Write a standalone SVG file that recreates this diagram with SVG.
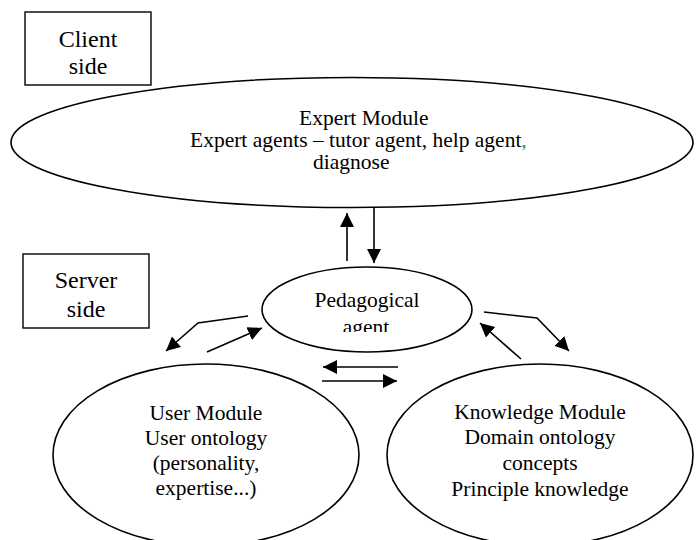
<svg xmlns="http://www.w3.org/2000/svg" width="696" height="540" viewBox="0 0 696 540">
<style>
  .shape { fill: #ffffff; stroke: #000000; stroke-width: 1.6; }
  .box { fill: #ffffff; stroke: #000000; stroke-width: 1.4; }
  .t { font-family: "Liberation Serif", "Times New Roman", serif; fill: #000000; }
  .lbl { font-size: 24px; text-anchor: middle; }
  .mod { font-size: 21.5px; text-anchor: middle; }
  .exp { font-size: 21.5px; }
  .conn { fill: none; stroke: #000000; stroke-width: 1.6; marker-end: url(#ah); }
</style>
<defs>
  <marker id="ah" markerUnits="userSpaceOnUse" markerWidth="16" markerHeight="16" refX="14" refY="7" orient="auto">
    <path d="M0,0 L14,7 L0,14 Z" fill="#000000"/>
  </marker>
  <clipPath id="pedclip">
    <rect x="250" y="260" width="240" height="72"/>
  </clipPath>
</defs>
<rect width="696" height="540" fill="#ffffff"/>

<g id="client-side">
  <rect class="box" x="25" y="12" width="126" height="73"/>
  <text class="t lbl" x="88" y="47">Client</text>
  <text class="t lbl" x="88" y="74">side</text>
</g>

<g id="server-side">
  <rect class="box" x="23" y="254" width="126" height="74"/>
  <text class="t lbl" x="86" y="288">Server</text>
  <text class="t lbl" x="86" y="317">side</text>
</g>

<g id="expert-module">
  <ellipse class="shape" cx="352" cy="142.5" rx="341" ry="65"/>
  <text class="t exp" x="299" y="125">Expert Module</text>
  <text class="t exp" x="190" y="147">Expert agents – tutor agent, help agent<tspan fill="#2e8b57">,</tspan></text>
  <text class="t exp" x="313" y="169">diagnose</text>
</g>

<g id="pedagogical-agent">
  <ellipse class="shape" cx="367" cy="309.5" rx="105" ry="42.5"/>
  <text class="t mod" x="367" y="307">Pedagogical</text>
  <text class="t mod" x="366" y="334" clip-path="url(#pedclip)">agent</text>
</g>

<g id="user-module">
  <ellipse class="shape" cx="206" cy="455" rx="153" ry="91"/>
  <text class="t mod" x="206" y="420">User Module</text>
  <text class="t mod" x="206" y="445">User ontology</text>
  <text class="t mod" x="206" y="470">(personality,</text>
  <text class="t mod" x="206" y="495">expertise...)</text>
</g>

<g id="knowledge-module">
  <ellipse class="shape" cx="540" cy="455" rx="153" ry="91"/>
  <text class="t mod" x="540" y="419">Knowledge Module</text>
  <text class="t mod" x="540" y="444">Domain ontology</text>
  <text class="t mod" x="540" y="470">concepts</text>
  <text class="t mod" x="540" y="496">Principle knowledge</text>
</g>

<g id="connectors">
  <path class="conn" d="M347,261 L347,213"/>
  <path class="conn" d="M374,208 L374,263"/>
  <path class="conn" d="M248,316 L198,323 L166,351"/>
  <path class="conn" d="M207,352 L262,328"/>
  <path class="conn" d="M484,312 L537,318 L569,351"/>
  <path class="conn" d="M521,359 L480,323"/>
  <path class="conn" d="M398,367 L323,367"/>
  <path class="conn" d="M322,381 L397,381"/>
</g>
</svg>
